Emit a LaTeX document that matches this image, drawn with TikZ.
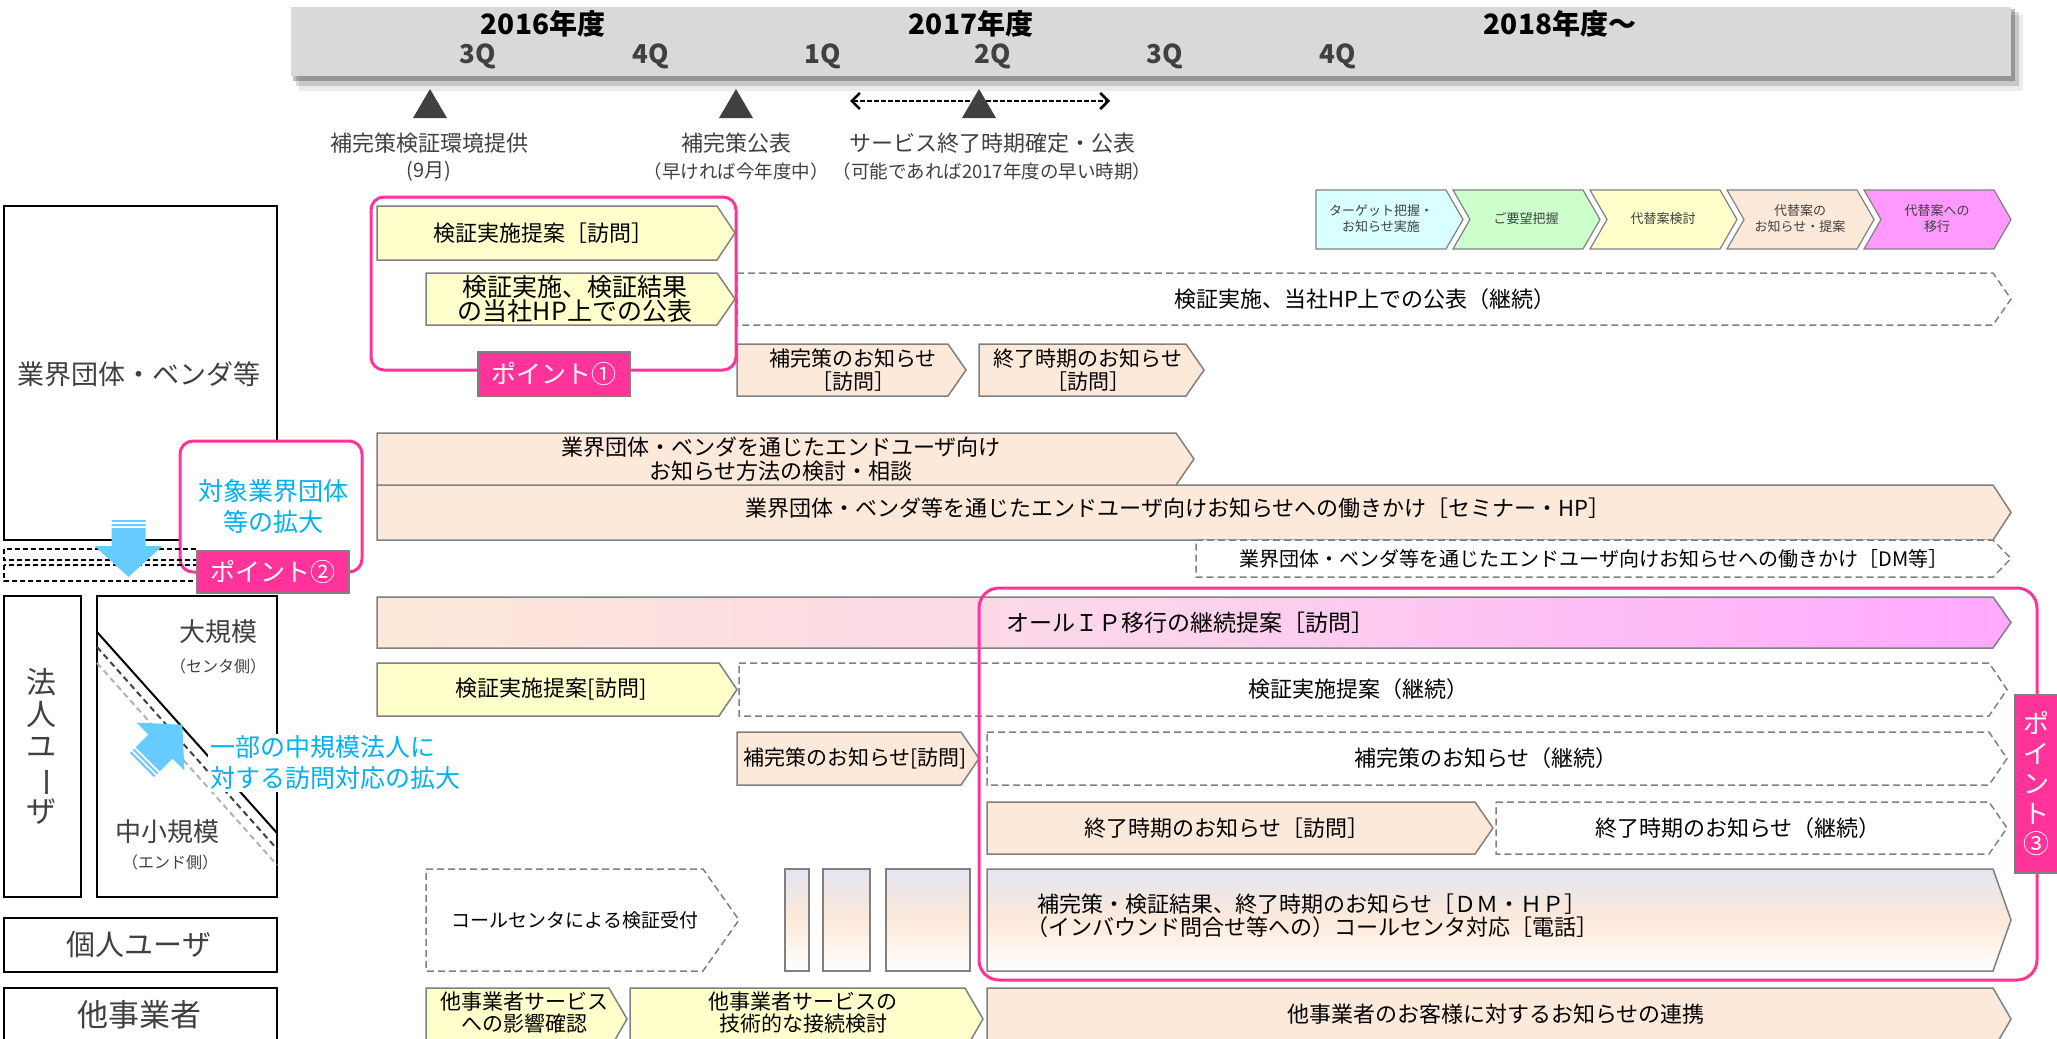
\documentclass[tikz,border=0pt]{standalone}
\usepackage{fontspec}
\usepackage{graphicx}
\setmainfont{Noto Sans CJK JP}
\usetikzlibrary{arrows.meta}

\definecolor{peach}{HTML}{FDE9D9}
\definecolor{lightyel}{HTML}{FFFFCC}
\definecolor{bargray}{HTML}{808080}
\definecolor{pointpink}{HTML}{FF3399}
\definecolor{cyantext}{HTML}{00B0F0}
\definecolor{arrowblue}{HTML}{66CCFF}
\definecolor{darktext}{HTML}{404040}
\definecolor{headgray}{HTML}{D9D9D9}
\definecolor{ipmagenta}{HTML}{FFA8FF}
\definecolor{ipmid}{HTML}{FCD3EC}
\definecolor{callblue}{HTML}{E2E5EF}
\definecolor{legcyan}{HTML}{D9FFFF}
\definecolor{leggreen}{HTML}{CCFFCC}
\definecolor{legmag}{HTML}{FF99FF}

\newcommand{\tsize}[2]{\fontsize{#1}{#2}\selectfont}
% bar with arrow tip: [tip]{style}{x1}{x2}{y1}{y2}
\newcommand{\chevbar}[6][18]{\draw[#2] (#3,#5) -- ({#4-#1},#5) -- (#4,{(#5+#6)/2}) -- ({#4-#1},#6) -- (#3,#6) -- cycle;}
% chevron with notch on the left
\newcommand{\chevnotch}[5]{\draw[#1] (#2,#4) -- ({#3-17},#4) -- (#3,{(#4+#5)/2}) -- ({#3-17},#5) -- (#2,#5) -- ({#2+17},{(#4+#5)/2}) -- cycle;}
% striped blue arrow, pointing along local x
\newcommand{\bluearrow}{\fill[arrowblue] (0,-17) rectangle (2,17) (4,-17) rectangle (6,17)
  (8,-17) -- (26,-17) -- (26,-34) -- (57,0) -- (26,34) -- (26,17) -- (8,17) -- cycle;}

\tikzset{
  barline/.style={draw=bargray, line width=1.5pt},
  peachbar/.style={barline, fill=peach},
  yelbar/.style={barline, fill=lightyel},
  dashbar/.style={barline, dash pattern=on 7pt off 4pt, fill=white},
  callshade/.style={barline, top color=callblue, bottom color=white, middle color=peach},
  legbox/.style={draw=bargray, line width=1.2pt},
  pinkframe/.style={draw=pointpink, line width=3pt, rounded corners=13pt},
  pointtag/.style={fill=pointpink, draw=bargray, line width=1.5pt, text=white, inner sep=0pt, font=\tsize{25}{28}},
  bartext/.style={font=\tsize{22}{24}, align=center, inner sep=0pt},
  yeartext/.style={font=\bfseries\tsize{28}{30}, inner sep=0pt},
  qtext/.style={font=\bfseries\tsize{26}{28}, text=darktext, inner sep=0pt},
  mstext/.style={text=darktext, font=\tsize{22}{24}, inner sep=0pt},
  msnote/.style={text=darktext, font=\tsize{18.5}{20}, inner sep=0pt},
  usertext/.style={text=darktext, inner sep=0pt, align=center},
  leglabel/.style={font=\tsize{13}{16}, align=center, inner sep=0pt, text=darktext},
  bluetext/.style={text=cyantext, font=\tsize{25}{31}, inner sep=2pt},
}

\begin{document}
\begin{tikzpicture}[x=1pt, y=-1pt]
\useasboundingbox (0,0) rectangle (2057,1039);

% timeline header
\fill[black, opacity=0.08] (299,15) rectangle (2023,91);
\fill[black, opacity=0.15] (296,12) rectangle (2019,86);
\fill[black, opacity=0.25] (293,9) rectangle (2015,81);
\fill[headgray] (291,7) rectangle (2011,76);
\node[yeartext] (fy2016) at (543,24) {2016年度};
\node[yeartext] (fy2017) at (971,24) {2017年度};
\node[yeartext] (fy2018) at (1560,24) {2018年度〜};
\foreach \q/\x/\n in {3Q/478/qa, 4Q/651/qb, 1Q/823/qc, 2Q/993/qd, 3Q/1165/qe, 4Q/1338/qf}
  \node[qtext] (\n) at (\x,56) {\q};

% milestones
\coordinate (spanl) at (850,101);
\coordinate (spanr) at (1110,101);
\draw[dash pattern=on 5pt off 2pt, line width=2.5pt, {Straight Barb[length=8pt,width=16pt]}-{Straight Barb[length=8pt,width=16pt]}] (spanl) -- (spanr);
\foreach \x in {430,736,979}
  \fill[darktext] (\x-17,118) -- (\x,89) -- (\x+17,118) -- cycle;
\node[mstext] (ms1) at (429,143) {補完策検証環境提供};
\node[msnote, font=\tsize{20}{22}] (ms1note) at (429,171) {(9月)};
\node[mstext] (ms2) at (736,143) {補完策公表};
\node[msnote] (ms2note) at (736,171) {（早ければ今年度中）};
\node[mstext] (ms3) at (992,143) {サービス終了時期確定・公表};
\node[msnote] (ms3note) at (992,171) {（可能であれば2017年度の早い時期）};

% steps legend
\chevbar[17]{legbox, fill=legcyan}{1316}{1463}{190}{249}
\chevnotch{legbox, fill=leggreen}{1453}{1600}{190}{249}
\chevnotch{legbox, fill=lightyel}{1590}{1737}{190}{249}
\chevnotch{legbox, fill=peach}{1727}{1874}{190}{249}
\chevnotch{legbox, fill=legmag}{1864}{2011}{190}{249}
\node[leglabel] (step1) at (1381,219) {ターゲット把握・\\お知らせ実施};
\node[leglabel] (step2) at (1526,219) {ご要望把握};
\node[leglabel] (step3) at (1663,219) {代替案検討};
\node[leglabel] (step4) at (1800,219) {代替案の\\お知らせ・提案};
\node[leglabel] (step5) at (1937,219) {代替案への\\移行};

% left column
\draw[line width=2pt] (4,206) rectangle (277,540);
\node[usertext, font=\tsize{27}{30}] (vendor) at (139,374) {業界団体・ベンダ等};
\draw[pinkframe, fill=white] (180,441) rectangle (362,572);
\node[bluetext, align=center] (widen) at (273,506) {対象業界団体\\等の拡大};
\draw[dash pattern=on 5pt off 3pt, line width=1.5pt] (4,549) rectangle (197,560);
\draw[dash pattern=on 5pt off 3pt, line width=1.5pt] (4,565) rectangle (197,581);
\begin{scope}[shift={(128.5,520)}, rotate=-90]
  \bluearrow
\end{scope}
\node[pointtag, minimum width=152pt, minimum height=42pt] (point2) at (273,572) {ポイント②};

\draw[line width=2pt] (4,596) rectangle (81,897);
\node[usertext, font=\tsize{30}{32}] (corp) at (42,746) {法\\人\\ユ\\\rotatebox[origin=c]{-90}{ー}\\ザ};
\draw[line width=2pt] (97,596) rectangle (277,897);
\draw[line width=2pt] (97,632) -- (277,833);
\draw[dash pattern=on 6pt off 4pt, darktext, line width=2pt] (97,647) -- (277,849);
\draw[dash pattern=on 6pt off 4pt, gray!60, line width=2pt] (97,663) -- (277,865);
\node[usertext, font=\tsize{26}{28}] (large) at (218,632) {大規模};
\node[usertext, font=\tsize{16}{18}] (largenote) at (218,666) {（センタ側）};
\node[usertext, font=\tsize{26}{28}] (small) at (167,832) {中小規模};
\node[usertext, font=\tsize{16}{18}] (smallnote) at (170,862) {（エンド側）};
\begin{scope}[shift={(142,765)}, rotate=45]
  \bluearrow
\end{scope}
\node[bluetext, fill=white, anchor=west, align=left] (visit) at (208,763) {一部の中規模法人に\\対する訪問対応の拡大};

\draw[line width=2pt] (4,918) rectangle (277,972);
\node[usertext, font=\tsize{29}{31}] (person) at (139,945) {個人ユーザ};
\draw[line width=2pt] (4,988) rectangle (277,1060);
\node[usertext, font=\tsize{31}{33}] (other) at (139,1015) {他事業者};

% vendor rows
\chevbar{yelbar}{377}{735}{206}{260}
\node[bartext] (propose) at (543,233) {検証実施提案［訪問］};
\chevbar{yelbar}{426}{735}{273}{325}
\node[bartext, font=\tsize{25}{24}] (publish) at (575,299) {検証実施、検証結果\\の当社HP上での公表};
\chevbar{dashbar}{737}{2011}{273}{325}
\node[bartext] (publishcont) at (1365,299) {検証実施、当社HP上での公表（継続）};
\chevbar{peachbar}{737}{966}{344}{396}
\node[bartext, font=\tsize{21}{23}] (notefix) at (853,370) {補完策のお知らせ\\［訪問］};
\chevbar{peachbar}{979}{1204}{344}{396}
\node[bartext, font=\tsize{21}{23}] (noteend) at (1088,370) {終了時期のお知らせ\\［訪問］};
\chevbar{peachbar}{377}{2011}{485}{540}
\node[bartext] (seminar) at (1178,508) {業界団体・ベンダ等を通じたエンドユーザ向けお知らせへの働きかけ［セミナー・HP］};
\chevbar{peachbar}{377}{1194}{433}{485}
\node[bartext] (consult) at (781,459) {業界団体・ベンダを通じたエンドユーザ向け\\お知らせ方法の検討・相談};
\chevbar{dashbar}{1196}{2011}{540}{577}
\node[bartext, font=\tsize{20}{22}] (mail) at (1594,559) {業界団体・ベンダ等を通じたエンドユーザ向けお知らせへの働きかけ［DM等］};

% corporate rows
\chevbar{barline, left color=peach, right color=ipmagenta, middle color=ipmid}{377}{2011}{597}{648}
\node[bartext, font=\tsize{23}{25}, anchor=west] (allip) at (1006,623) {オールＩＰ移行の継続提案［訪問］};
\chevbar{yelbar}{377}{737}{663}{716}
\node[bartext] (propose2) at (551,689) {検証実施提案[訪問]};
\chevbar{dashbar}{739}{2007}{663}{716}
\node[bartext] (propose2cont) at (1358,689) {検証実施提案（継続）};
\chevbar{peachbar}{737}{979}{732}{785}
\node[bartext, font=\tsize{21}{23}] (notefix2) at (855,758) {補完策のお知らせ[訪問]};
\chevbar{dashbar}{987}{2007}{732}{785}
\node[bartext] (notefix2cont) at (1486,758) {補完策のお知らせ（継続）};
\chevbar{peachbar}{987}{1493}{802}{854}
\node[bartext] (noteend2) at (1227,828) {終了時期のお知らせ［訪問］};
\chevbar{dashbar}{1496}{2007}{802}{854}
\node[bartext] (noteend2cont) at (1738,828) {終了時期のお知らせ（継続）};

% individual users
\chevbar[36]{dashbar}{426}{739}{869}{971}
\node[bartext, font=\tsize{19}{21}] (callcheck) at (575,920) {コールセンタによる検証受付};
\draw[callshade] (785,869) rectangle (809,971);
\draw[callshade] (823,869) rectangle (870,971);
\draw[callshade] (886,869) rectangle (970,971);
\chevbar{callshade}{987}{2011}{869}{971}
\node[bartext, font=\tsize{22}{23}] (callcenter) at (1312,916) {補完策・検証結果、終了時期のお知らせ［ＤＭ・ＨＰ］\\（インバウンド問合せ等への）コールセンタ対応［電話］};

% other carriers
\chevbar{yelbar}{426}{627}{988}{1050}
\node[bartext, font=\tsize{21}{22}] (impact) at (524,1013) {他事業者サービス\\への影響確認};
\chevbar{yelbar}{630}{983}{988}{1050}
\node[bartext, font=\tsize{21}{22}] (connect) at (803,1013) {他事業者サービスの\\技術的な接続検討};
\chevbar{peachbar}{987}{2011}{988}{1050}
\node[bartext] (relay) at (1496,1014) {他事業者のお客様に対するお知らせの連携};

% points
\draw[pinkframe] (371,197) rectangle (736,370);
\node[pointtag, minimum width=152pt, minimum height=44pt] (point1) at (554,374) {ポイント①};
\draw[pinkframe, rounded corners=20pt] (979,588) rectangle (2037,980);
\node[pointtag, minimum width=43pt, minimum height=178pt, align=center, font=\tsize{26}{30}] (point3) at (2036,784) {ポ\\イ\\ン\\ト\\③};
\end{tikzpicture}
\end{document}
